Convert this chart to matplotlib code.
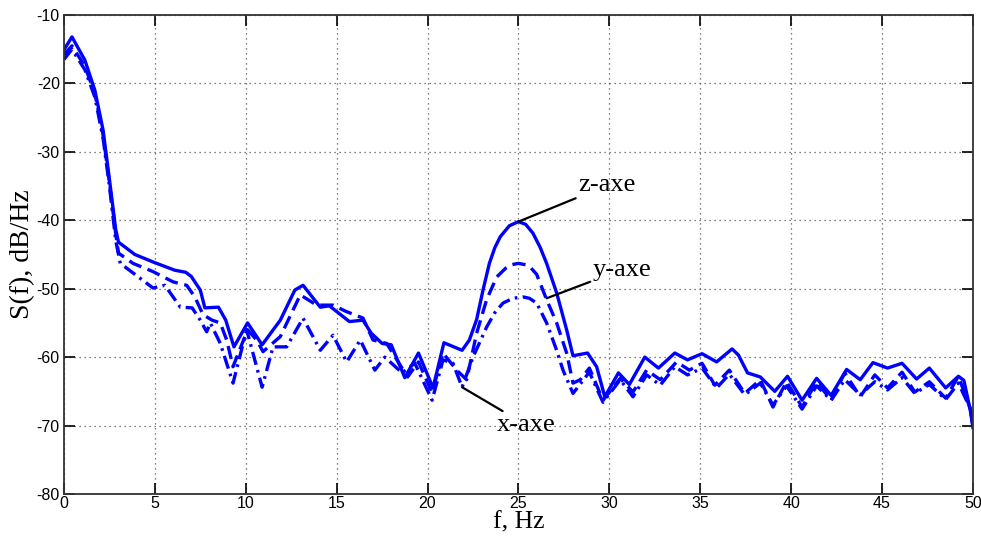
import matplotlib
matplotlib.use('Agg')
import matplotlib.pyplot as plt

# spectrum z-axe (solid)
fz = [0, 0.44, 1.15, 1.7, 2.15, 2.5, 2.85, 3.0, 3.9, 5.0, 6.1, 6.7, 7.0, 7.5, 7.75, 8.5, 8.9, 9.35,
      10.1, 10.9, 11.9, 12.7, 13.15, 14.1, 14.6, 15.7, 16.45, 16.9, 17.5, 18.0, 18.75, 19.5, 20.3,
      20.9, 21.9, 22.3, 22.7, 23.05, 23.4, 23.7, 24.0, 24.5, 25.0, 25.4, 25.8, 26.2, 26.55, 27.1,
      27.65, 28.0, 28.8, 29.3, 29.75, 30.5, 31.1, 31.95, 32.7, 33.6, 34.3, 35.1, 35.9, 36.75, 37.1,
      37.6, 38.3, 39.1, 39.8, 40.6, 41.4, 42.2, 43.05, 43.8, 44.5, 45.3, 46.1, 46.9, 47.6, 48.5, 49.2,
      49.5, 49.85, 50]
sz = [-15.1, -13.2, -16.6, -21, -26.8, -34, -41.4, -43.2, -45, -46.2, -47.3, -47.6, -48.2, -50.2, -52.8,
      -52.7, -54.6, -58.5, -55, -58.2, -54.6, -50.2, -49.5, -52.7, -52.5, -54.8, -54.6, -56.5, -58, -58.2,
      -63, -59.4, -64.5, -57.9, -59, -57.5, -54.5, -50.2, -46.3, -44, -42.4, -40.8, -40.2, -40.6, -41.9,
      -44, -46.3, -50.6, -56, -59.8, -59.4, -61.4, -65.8, -62.3, -64, -60, -61.6, -59.4, -60.4, -59.5,
      -60.7, -58.8, -59.7, -62.3, -62.9, -65, -62.8, -66.3, -63.1, -65.6, -61.8, -63.3, -60.8, -61.6,
      -60.9, -63.2, -61.6, -64.5, -62.8, -63.4, -67.7, -70.3]

# spectrum y-axe (dashed)
fy = [0, 0.44, 1.15, 1.7, 2.15, 2.5, 2.85, 3.0, 3.8, 4.9, 6.0, 6.75, 7.2, 7.65, 8.15, 8.6, 8.95, 9.3,
      10.1, 10.6, 10.95, 11.9, 13.0, 13.9, 14.8, 15.5, 16.45, 17.0, 17.75, 18.9, 19.5, 20.25, 20.85,
      21.6, 22.15, 22.7, 23.25, 23.8, 24.3, 24.6, 25.0, 25.4, 25.7, 26.0, 26.55, 27.1, 27.65, 28.0,
      28.4, 28.9, 29.65, 30.6, 31.3, 32.05, 32.8, 33.7, 34.4, 35.1, 35.8, 36.6, 37.45, 38.3, 39.0,
      39.75, 40.6, 41.4, 42.2, 42.95, 43.8, 44.6, 45.3, 46.1, 46.8, 47.6, 48.5, 49.2, 49.85, 50]
sy = [-15.8, -14.5, -17.5, -21.5, -27.5, -34.5, -42, -44.8, -46.3, -47.5, -49, -49.5, -51.2, -53.8,
      -54.6, -55, -57.5, -61.4, -56, -57.5, -59.2, -57, -50.9, -52.4, -52.4, -53.3, -54.3, -57.5, -58,
      -62.9, -60.7, -65.2, -59.4, -61.9, -63.3, -56.5, -51.6, -48.3, -47, -46.5, -46.3, -46.5, -47,
      -47.9, -51.6, -55, -59.4, -63.8, -63.3, -61.6, -66.3, -63.1, -65.1, -61.9, -63.3, -60.7, -61.9,
      -60.9, -64.1, -61.9, -65.3, -63.3, -67.3, -63.6, -67.3, -63.6, -66.3, -62.3, -65.8, -62.6, -64.5,
      -62.2, -65.1, -63.6, -66, -62.8, -67.5, -70]

# spectrum x-axe (dash-dot)
fx = [0, 0.44, 1.15, 1.7, 2.15, 2.5, 2.85, 3.1, 3.8, 4.9, 5.55, 6.4, 7.05, 7.5, 7.85, 8.05, 8.6, 9.3,
      10.05, 10.9, 11.5, 12.25, 13.15, 14.1, 14.8, 15.55, 16.3, 17.1, 17.65, 18.6, 19.3, 20.25, 20.85,
      21.4, 21.9, 22.5, 23.25, 23.7, 24.15, 24.7, 25.25, 25.6, 26.0, 26.55, 27.1, 27.45, 28.0, 28.9,
      29.65, 30.6, 31.3, 32.05, 32.8, 33.6, 34.3, 35.1, 35.9, 36.6, 37.45, 38.3, 39.0, 39.75, 40.6,
      41.4, 42.2, 42.95, 43.8, 44.6, 45.3, 46.1, 46.8, 47.6, 48.5, 49.2, 49.85, 50]
sx = [-16.5, -15.0, -18, -22, -28, -35, -43, -46.3, -47.7, -49.9, -49.5, -52.7, -52.8, -54.6, -56.3,
      -55, -58, -63.8, -56, -64.4, -58.5, -58.5, -54.3, -59, -56.8, -60.7, -57.5, -61.9, -60, -62.3,
      -60.9, -66.3, -60.4, -60.9, -64.4, -60, -55.6, -53.5, -52.1, -51.4, -51.2, -51.4, -52.1, -55,
      -59, -61.9, -65.3, -62.2, -66.6, -63.3, -65.8, -62.6, -64.1, -61.4, -62.6, -61.6, -64.5, -62.5,
      -65.5, -63.8, -67, -64.2, -67.6, -64.2, -66.3, -63.3, -65.5, -63.6, -64.8, -63, -65.3, -64,
      -66.2, -63.8, -67.5, -70]

xticks = [0, 5, 10, 15, 20, 25, 30, 35, 40, 45, 50]
yticks = [-80, -70, -60, -50, -40, -30, -20, -10]

plt.rcParams['font.family'] = 'Liberation Sans'
plt.rcParams['axes.unicode_minus'] = False

fig = plt.figure(figsize=(9.81, 5.36), dpi=100)
ax = fig.add_axes([0.0652, 0.0784, 0.9266, 0.8936])

lw = 2.4
ax.plot(fz, sz, color='#0000ff', lw=lw)
ax.plot(fy, sy, color='#0000ff', lw=lw, dashes=(4, 2))
ax.plot(fx, sx, color='#0000ff', lw=lw, dashes=(4, 1.6, 0.8, 1.6))

ax.set_xlim(0, 50)
ax.set_ylim(-80, -10)
ax.set_xticks(xticks)
ax.set_yticks(yticks)
ax.tick_params(direction='in', top=True, right=True, length=8, width=1.2, labelsize=11.5, pad=3)
ax.tick_params(axis='x', pad=1.5)
ax.grid(True, color='#555555', linestyle=(0, (1, 3)), linewidth=0.9)
for s in ax.spines.values():
    s.set_linewidth(1.3)
    s.set_color('#333333')

serif = 'Liberation Serif'
ax.set_xlabel('f, Hz', fontsize=18.5, family=serif, labelpad=0)
ax.set_ylabel('S(f), dB/Hz', fontsize=20, family=serif, labelpad=1)

# annotations for each component
kw = dict(fontsize=19, family=serif, va='center', ha='left',
          arrowprops=dict(arrowstyle='-', color='black', lw=1.6, shrinkA=0, shrinkB=0))
ax.annotate('z-axe', xy=(25.0, -40.2), xytext=(28.3, -34.9), **kw)
ax.annotate('y-axe', xy=(26.55, -51.4), xytext=(29.1, -47.2), **kw)
ax.annotate('x-axe', xy=(21.9, -64.4), xytext=(23.8, -69.9), **kw)

fig.savefig('out.png', dpi=100)
